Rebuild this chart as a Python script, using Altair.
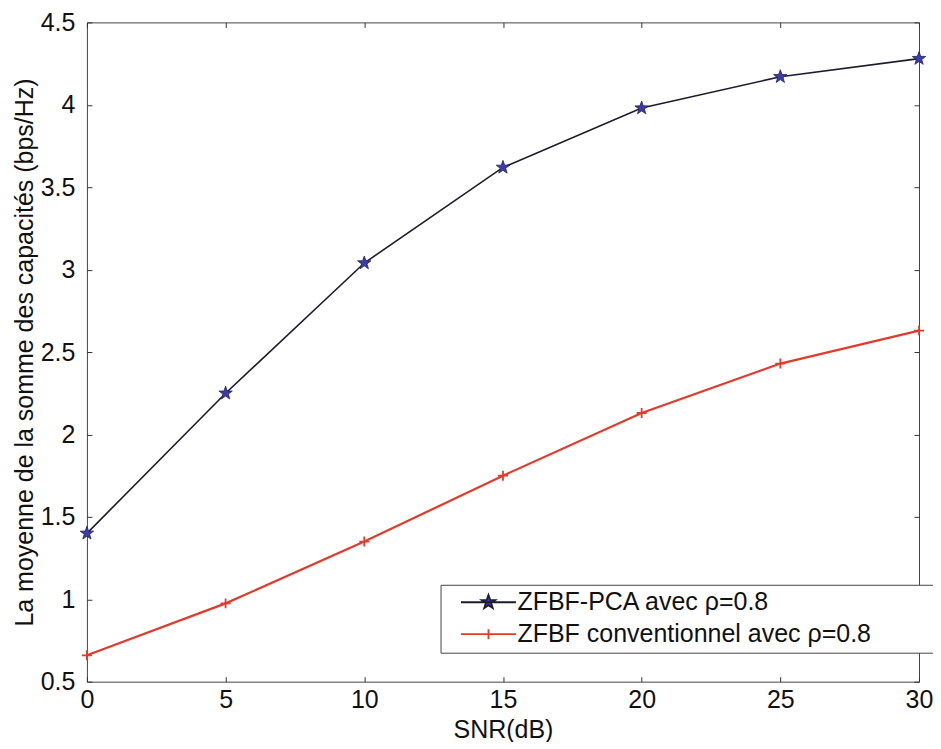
import math
import altair as alt
import pandas as pd

snr = [0, 5, 10, 15, 20, 25, 30]
pca = [1.40, 2.25, 3.04, 3.62, 3.98, 4.17, 4.28]
conv = [0.66, 0.975, 1.35, 1.75, 2.13, 2.43, 2.63]
names = ["ZFBF-PCA avec ρ=0.8", "ZFBF conventionnel avec ρ=0.8"]
x_ticks = [0, 5, 10, 15, 20, 25, 30]
y_ticks = [0.5, 1, 1.5, 2, 2.5, 3, 3.5, 4, 4.5]

df = pd.DataFrame({
    "snr": snr * 2,
    "val": pca + conv,
    "series": [names[0]] * len(snr) + [names[1]] * len(snr),
})


def star_path(r_out, r_in, cx=0.0):
    pts = []
    for i in range(10):
        r = r_out if i % 2 == 0 else r_in
        a = -math.pi / 2 + i * math.pi / 5
        pts.append((cx + r * math.cos(a), r * math.sin(a)))
    return "M" + "L".join(f"{x:.3f},{y:.3f}" for x, y in pts) + "Z"


STAR = star_path(1, 0.4)
PLUS = "M-1,0L1,0M0,-1L0,1"
# legend symbols: unit = 5 px (symbolSize 100); line from 0.6 to 11.6, marker at 6.1;
# a lone move-to at the far right widens the legend box like the original
LEG_STAR = "M0.6,0L11.6,0" + star_path(1.45, 0.58, cx=6.1) + "M94,0"
LEG_PLUS = "M0.6,0L11.6,0M5.1,0L7.1,0M6.1,-1L6.1,1M94,0"

FONT = "Liberation Sans"
LINE_PCA = "#1c1c2c"
STAR_FILL = "#3c3ca8"
STAR_EDGE = "#22225a"
RED = "#e23a2b"

xs = alt.Scale(domain=[0, 30], nice=False, zero=False)
ys = alt.Scale(domain=[0.5, 4.5], nice=False, zero=False)

ax_x = alt.Axis(values=x_ticks, title="SNR(dB)", grid=False, domain=False,
                offset=-5, tickSize=5, tickColor="#333", labelPadding=6,
                labelFlush=False, labelOverlap=False,
                labelFontSize=25, titleFontSize=25, titlePadding=5,
                labelFont=FONT, titleFont=FONT, labelColor="#111",
                titleColor="#111", titleFontWeight="normal", format="~g")
ax_y = alt.Axis(values=y_ticks, title="La moyenne de la somme des capacités (bps/Hz)",
                grid=False, domain=False, offset=-5, tickSize=5, tickColor="#333",
                labelPadding=12, labelFlush=False, labelOverlap=False,
                labelFontSize=25, titleFontSize=25, titlePadding=3,
                labelFont=FONT, titleFont=FONT, labelColor="#111",
                titleColor="#111", titleFontWeight="normal", format="~g")
ax_top = alt.Axis(orient="top", values=x_ticks, title=None, labels=False, grid=False,
                  domain=False, offset=-5, tickSize=5, tickColor="#333")
ax_right = alt.Axis(orient="right", values=y_ticks, title=None, labels=False, grid=False,
                    domain=False, offset=-5, tickSize=5, tickColor="#333")

base = alt.Chart(df)

pca_line = base.transform_filter(alt.datum.series == names[0]).mark_line(
    color=LINE_PCA, strokeWidth=1.6
).encode(x=alt.X("snr:Q", scale=xs, axis=ax_x), y=alt.Y("val:Q", scale=ys, axis=ax_y))

conv_line = base.transform_filter(alt.datum.series == names[1]).mark_line(
    color=RED, strokeWidth=2.2
).encode(x=alt.X("snr:Q", scale=xs, axis=None), y=alt.Y("val:Q", scale=ys, axis=None))

pca_pts = base.transform_filter(alt.datum.series == names[0]).mark_point(
    shape=STAR, size=200, filled=True, fill=STAR_FILL, stroke=STAR_EDGE,
    strokeWidth=0.8, opacity=1
).encode(x=alt.X("snr:Q", scale=xs, axis=None), y=alt.Y("val:Q", scale=ys, axis=None))

conv_pts = base.transform_filter(alt.datum.series == names[1]).mark_point(
    shape=PLUS, size=100, stroke=RED, strokeWidth=1.8, opacity=1
).encode(x=alt.X("snr:Q", scale=xs, axis=None), y=alt.Y("val:Q", scale=ys, axis=None))

legend_layer = base.mark_point(opacity=0).encode(
    x=alt.X("snr:Q", scale=xs, axis=None),
    y=alt.Y("val:Q", scale=ys, axis=None),
    shape=alt.Shape("series:N", scale=alt.Scale(domain=names, range=[LEG_STAR, LEG_PLUS]),
                    legend=alt.Legend(
                        orient="none", legendX=354, legendY=563, title=None,
                        labelFontSize=25, labelFont=FONT, labelColor="#111",
                        symbolSize=100, symbolStrokeWidth=1.8, symbolOpacity=1,
                        labelOffset=47, rowPadding=6, padding=5,
                        strokeColor="#444", fillColor="white", labelLimit=600)),
    stroke=alt.Stroke("series:N", scale=alt.Scale(domain=names, range=[LINE_PCA, RED])),
    fill=alt.Fill("series:N", scale=alt.Scale(domain=names, range=[STAR_FILL, "white"])),
)

frame = base.mark_line(opacity=0).encode(
    x=alt.X("snr:Q", scale=xs, axis=ax_top),
    y=alt.Y("val:Q", scale=ys, axis=ax_right),
    detail="series:N",
)

chart = alt.layer(pca_line, conv_line, pca_pts, conv_pts, legend_layer, frame).resolve_axis(
    x="independent", y="independent"
).properties(
    width=833, height=660,
    autosize=alt.AutoSizeParams(type="none"),
    padding={"left": 79, "top": 14, "right": 14, "bottom": 60},
    background="white",
).configure_view(stroke="#444", strokeWidth=1)

chart.save("out.html", embed_options={"renderer": "svg", "actions": False})
